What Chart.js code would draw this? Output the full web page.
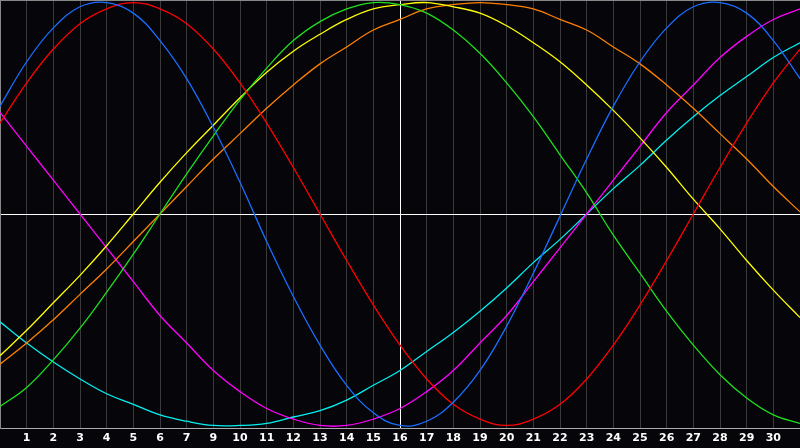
<!DOCTYPE html>
<html>
<head>
<meta charset="utf-8">
<script src="https://cdn.jsdelivr.net/npm/chart.js@4"></script>
<style>
  html, body { margin: 0; padding: 0; background: #05050a; }
  canvas { display: block; }
</style>
</head>
<body>
<canvas id="bio" width="800" height="448"></canvas>
<script>
// day ticks as printed under the chart (note: no "8")
const dayLabels = ['', '1', '2', '3', '4', '5', '6', '7', '9', '10', '11', '12', '13', '14', '15', '16',
  '17', '18', '19', '20', '21', '22', '23', '24', '25', '26', '27', '28', '29', '30', ''];

const physical = [0.51, 0.72, 0.88, 0.98, 1.00, 0.95, 0.82, 0.64, 0.41, 0.15, -0.13, -0.39, -0.62, -0.81, -0.94, -1.00,
  -0.98, -0.89, -0.74, -0.53, -0.28, -0.01, 0.26, 0.51, 0.72, 0.88, 0.98, 1.00, 0.95, 0.82, 0.64];
const emotional = [0.43, 0.62, 0.78, 0.90, 0.97, 1.00, 0.97, 0.90, 0.78, 0.62, 0.43, 0.22, 0, -0.22, -0.43, -0.62,
  -0.78, -0.90, -0.97, -1.00, -0.97, -0.90, -0.78, -0.62, -0.43, -0.22, 0, 0.22, 0.43, 0.62, 0.78];
const intellectual = [-0.91, -0.82, -0.69, -0.54, -0.37, -0.19, 0, 0.19, 0.37, 0.54, 0.69, 0.82, 0.91, 0.97, 1.00, 0.99,
  0.95, 0.87, 0.76, 0.62, 0.46, 0.28, 0.10, -0.10, -0.28, -0.46, -0.62, -0.76, -0.87, -0.95, -0.99];
const aesthetic = [-0.67, -0.55, -0.42, -0.29, -0.15, 0, 0.15, 0.29, 0.42, 0.55, 0.67, 0.77, 0.85, 0.92, 0.97, 0.99,
  1.00, 0.98, 0.95, 0.89, 0.81, 0.72, 0.61, 0.49, 0.36, 0.22, 0.07, -0.07, -0.22, -0.36, -0.49];
const awareness = [-0.71, -0.61, -0.50, -0.38, -0.26, -0.13, 0, 0.13, 0.26, 0.38, 0.50, 0.61, 0.71, 0.79, 0.87, 0.92,
  0.97, 0.99, 1.00, 0.99, 0.97, 0.92, 0.87, 0.79, 0.71, 0.61, 0.50, 0.38, 0.26, 0.13, 0.01];
const intuitive = [0.48, 0.32, 0.16, 0, -0.16, -0.32, -0.48, -0.61, -0.74, -0.84, -0.92, -0.97, -1.00, -1.00, -0.97, -0.92,
  -0.84, -0.74, -0.61, -0.48, -0.32, -0.16, 0, 0.16, 0.32, 0.48, 0.61, 0.74, 0.84, 0.92, 0.97];
const spiritual = [-0.51, -0.61, -0.70, -0.78, -0.85, -0.90, -0.95, -0.98, -1.00, -1.00, -0.99, -0.96, -0.93, -0.88, -0.81, -0.74,
  -0.65, -0.56, -0.46, -0.35, -0.23, -0.12, 0, 0.12, 0.23, 0.35, 0.46, 0.56, 0.65, 0.74, 0.81];

const todayIndex = 15;
const yMin = -1.012, yMax = 1.012;

function curve(data, color) {
  return {
    data, borderColor: color, borderWidth: 1.3, tension: 0.4, fill: false,
    pointRadius: 0, pointHoverRadius: 0, pointBorderWidth: 0,
  };
}

new Chart(document.getElementById("bio"), {
  type: "line",
  data: {
    labels: dayLabels,
    datasets: [
      curve(physical, "#1a6eff"),
      curve(emotional, "#ff0000"),
      curve(intellectual, "#1ee01e"),
      curve(aesthetic, "#ffff00"),
      curve(awareness, "#ff8000"),
      curve(intuitive, "#ff00ff"),
      curve(spiritual, "#00f0f0"),
    ],
  },
  options: {
    responsive: false,
    animation: false,
    layout: { padding: 0, autoPadding: false },
    plugins: { legend: { display: false }, tooltip: { enabled: false } },
    scales: {
      x: {
        type: "category",
        offset: false,
        // plot runs edge to edge, no side padding
        afterFit: s => { s.paddingLeft = 0; s.paddingRight = 0; },
        border: { display: true, color: "#aaaaaa" },
        grid: {
          drawTicks: false,
          color: ctx => ctx.index === todayIndex ? "#ffffff" : (ctx.index === 0 || ctx.index === 30) ? "rgba(0,0,0,0)" : "#3a3a3a",
        },
        ticks: {
          autoSkip: false, maxRotation: 0, padding: 3.4, color: "#ffffff",
          font: { family: "DejaVu Sans", size: 11, weight: "bold" },
        },
      },
      y: {
        min: yMin, max: yMax,
        border: { display: true, color: "#888888" },
        afterBuildTicks: s => { s.ticks = [{ value: yMin }, { value: 0 }, { value: yMax }]; },
        grid: {
          drawTicks: false,
          color: ctx => ctx.tick.value === 0 ? "#ffffff" : ctx.tick.value === yMax ? "#888888" : "rgba(0,0,0,0)",
        },
        ticks: { display: false },
      },
    },
  },
});
</script>
</body>
</html>
